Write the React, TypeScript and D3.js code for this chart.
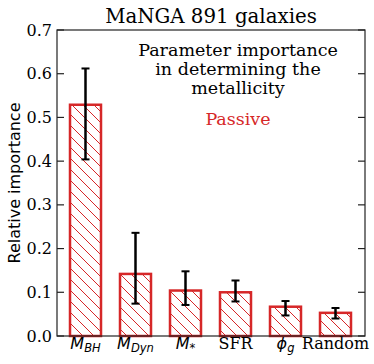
import React from "react";
import * as d3 from "d3";

const categories = ["MBH", "MDyn", "Mstar", "SFR", "phig", "Random"];
const values = [0.529, 0.142, 0.104, 0.1, 0.067, 0.053];
const errLow = [0.404, 0.074, 0.071, 0.079, 0.047, 0.04];
const errHigh = [0.612, 0.236, 0.148, 0.127, 0.08, 0.064];
const yTicks = [0, 0.1, 0.2, 0.3, 0.4, 0.5, 0.6, 0.7];

const W = 374, H = 364;
const L = 57, R = 365, T = 30, B = 336;
const RED = "#d62728";
const SERIF = "'DejaVu Serif', serif";
const SANS = "'DejaVu Sans', sans-serif";

function XLabel({ name }: { name: string }) {
  const math = { fontFamily: SANS, fontStyle: "italic" } as const;
  if (name === "MBH")
    return (<tspan style={math}>M<tspan fontSize={11.5} dy={3}>BH</tspan></tspan>);
  if (name === "MDyn")
    return (<tspan style={math}>M<tspan fontSize={11.5} dy={3}>Dyn</tspan></tspan>);
  if (name === "Mstar")
    return (<tspan style={math}>M<tspan fontSize={11.5} dy={3}>*</tspan></tspan>);
  if (name === "phig")
    return (<tspan style={math}>ϕ<tspan fontSize={11.5} dy={3}>g</tspan></tspan>);
  return <tspan style={{ fontFamily: SERIF }}>{name}</tspan>;
}

export default function App() {
  const x = d3.scaleLinear().domain([-0.57, 5.59]).range([L, R]);
  const y = d3.scaleLinear().domain([0, 0.7]).range([B, T]);
  const bw = x(0.62) - x(0);
  const ann = { fontFamily: SERIF, fontSize: 17.5 } as const;
  return (
    <svg width={W} height={H} style={{ position: "absolute", left: 0, top: 0 }}>
      <defs>
        <pattern id="hatch" patternUnits="userSpaceOnUse" width={11} height={11}>
          <path d="M-1,-1 L12,12 M-12,0 L0,12 M0,-11 L12,0 M-1,10 L1,12 M10,-1 L12,1" stroke={RED} strokeWidth={1} />
        </pattern>
      </defs>
      <rect width={W} height={H} fill="white" />
      <text x={(L + R) / 2} y={23} textAnchor="middle" style={{ fontFamily: SERIF, fontSize: 19.8 }}>MaNGA 891 galaxies</text>
      {categories.map((c, i) => {
        const cx = x(i);
        return (
          <g key={c}>
            <rect x={cx - bw / 2} y={y(values[i])} width={bw} height={B - y(values[i])} fill="url(#hatch)" stroke={RED} strokeWidth={2.5} />
            <line x1={cx} x2={cx} y1={y(errLow[i])} y2={y(errHigh[i])} stroke="black" strokeWidth={2.5} />
            <line x1={cx - 4} x2={cx + 4} y1={y(errLow[i])} y2={y(errLow[i])} stroke="black" strokeWidth={2} />
            <line x1={cx - 4} x2={cx + 4} y1={y(errHigh[i])} y2={y(errHigh[i])} stroke="black" strokeWidth={2} />
            <text x={cx} y={349} textAnchor="middle" style={{ fontSize: 16 }}><XLabel name={c} /></text>
          </g>
        );
      })}
      <rect x={L} y={T} width={R - L} height={B - T} fill="none" stroke="#222" strokeWidth={1.2} />
      {yTicks.map((t) => (
        <g key={t}>
          <line x1={L} x2={L + 7} y1={y(t)} y2={y(t)} stroke="#222" strokeWidth={1.2} />
          <line x1={R - 7} x2={R} y1={y(t)} y2={y(t)} stroke="#222" strokeWidth={1.2} />
          <text x={L - 5} y={y(t) + 5.5} textAnchor="end" style={{ fontFamily: SERIF, fontSize: 16 }}>{d3.format(".1f")(t)}</text>
        </g>
      ))}
      <text transform={`translate(20,${(T + B) / 2}) rotate(-90)`} textAnchor="middle" style={{ fontFamily: SANS, fontSize: 16 }}>Relative importance</text>
      <text x={238} y={56} textAnchor="middle" style={ann}>Parameter importance</text>
      <text x={238} y={75} textAnchor="middle" style={ann}>in determining the</text>
      <text x={238} y={94} textAnchor="middle" style={ann}>metallicity</text>
      <text x={238} y={125} textAnchor="middle" style={ann} fill={RED}>Passive</text>
    </svg>
  );
}
